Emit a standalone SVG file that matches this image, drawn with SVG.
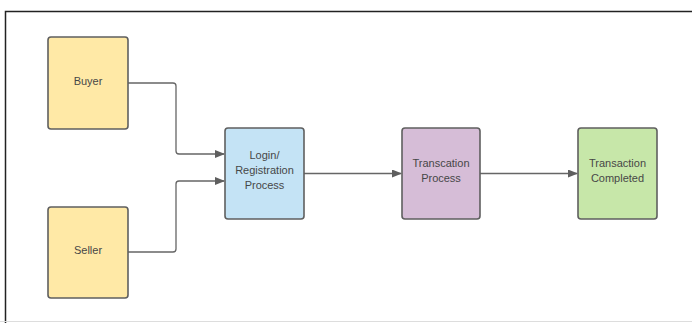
<svg xmlns="http://www.w3.org/2000/svg" width="692" height="323" viewBox="0 0 692 323">
<style>
.n{stroke:#5f5f5f;stroke-width:1.6}
.t{font-family:"Liberation Sans",Arial,sans-serif;font-size:11px;fill:#474747;text-anchor:middle}
.c{fill:none;stroke:#666;stroke-width:1.3}
</style>
<defs>
<marker id="a" markerWidth="10" markerHeight="8" refX="9" refY="4" orient="auto" markerUnits="userSpaceOnUse">
<path d="M0,0 L10,4 L0,8 Z" fill="#5f5f5f"/>
</marker>
</defs>
<rect width="692" height="323" fill="#fff"/>
<path d="M5.5,323 V11.5 H692" fill="none" stroke="#222" stroke-width="1.5"/>
<line x1="0" y1="321.5" x2="692" y2="321.5" stroke="#ddd" stroke-width="1"/>
<g id="connectors">
<path class="c" d="M128,83 H173 Q176,83 176,86 V151 Q176,154 179,154 H224" marker-end="url(#a)"/>
<path class="c" d="M128,252 H173 Q176,252 176,249 V184 Q176,181 179,181 H224" marker-end="url(#a)"/>
<path class="c" d="M304,173.5 H401" marker-end="url(#a)"/>
<path class="c" d="M480,173.5 H577" marker-end="url(#a)"/>
</g>
<g id="buyer">
<rect class="n" x="48" y="37" width="80" height="92" rx="3" fill="#ffe9a6"/>
<text class="t" x="88" y="85">Buyer</text>
</g>
<g id="seller">
<rect class="n" x="48" y="207" width="80" height="91" rx="3" fill="#ffe9a6"/>
<text class="t" x="88" y="254">Seller</text>
</g>
<g id="login">
<rect class="n" x="225" y="128" width="79" height="91" rx="3" fill="#c4e3f5"/>
<text class="t" x="264.5" y="159">Login/</text>
<text class="t" x="264.5" y="174">Registration</text>
<text class="t" x="264.5" y="189">Process</text>
</g>
<g id="transaction-process">
<rect class="n" x="402" y="128" width="78" height="91" rx="3" fill="#d6bdd7"/>
<text class="t" x="441" y="167">Transcation</text>
<text class="t" x="441" y="182">Process</text>
</g>
<g id="transaction-completed">
<rect class="n" x="578" y="128" width="79" height="91" rx="3" fill="#c7e7a9"/>
<text class="t" x="617.5" y="167">Transaction</text>
<text class="t" x="617.5" y="182">Completed</text>
</g>
</svg>
